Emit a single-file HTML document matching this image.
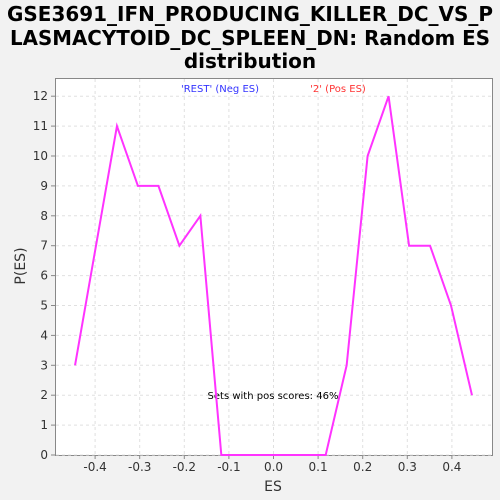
<!DOCTYPE html>
<html><head><meta charset="utf-8"><style>
body{margin:0;background:#f2f2f2;width:500px;height:500px;overflow:hidden;font-family:"DejaVu Sans","Liberation Sans",sans-serif}
svg text{font-family:"DejaVu Sans","Liberation Sans",sans-serif}
</style></head><body>
<svg id="chart" width="500" height="500" style="position:absolute;left:0;top:0">
<text x="250" y="21" text-anchor="middle" font-size="20" font-weight="bold" fill="#000" textLength="486" lengthAdjust="spacingAndGlyphs">GSE3691_IFN_PRODUCING_KILLER_DC_VS_P</text>
<text x="250" y="45" text-anchor="middle" font-size="20" font-weight="bold" fill="#000" textLength="480" lengthAdjust="spacingAndGlyphs">LASMACYTOID_DC_SPLEEN_DN: Random ES</text>
<text x="250" y="68" text-anchor="middle" font-size="20" font-weight="bold" fill="#000">distribution</text>
<rect x="55.5" y="78.5" width="437" height="377" fill="#fff" stroke="#888"/>
<g id="grid"></g><g id="axes"></g>
<text x="220" y="92" text-anchor="middle" font-size="10" fill="#3333ff">'REST' (Neg ES)</text>
<text x="338" y="92" text-anchor="middle" font-size="10" fill="#ff3333">'2' (Pos ES)</text>
<text x="273" y="399" text-anchor="middle" font-size="10" fill="#000">Sets with pos scores: 46%</text>
<text x="273" y="491" text-anchor="middle" font-size="14" fill="#333">ES</text>
<text x="25" y="266" text-anchor="middle" font-size="14" fill="#333" transform="rotate(-90 25 266)">P(ES)</text>
</svg>
<script>
const esValues=[-0.445,-0.398,-0.351,-0.304,-0.258,-0.211,-0.164,-0.117,-0.070,-0.023,0.023,0.070,0.117,0.164,0.211,0.258,0.304,0.351,0.398,0.445];
const pValues=[3,7,11,9,9,7,8,0,0,0,0,0,0,3,10,12,7,7,5,2];
const xTicks=[-0.4,-0.3,-0.2,-0.1,0.0,0.1,0.2,0.3,0.4];
const yTicks=[0,1,2,3,4,5,6,7,8,9,10,11,12];
const xs=v=>273.5+v*446;
const ys=v=>455-v*29.9;
const ns='http://www.w3.org/2000/svg';
const grid=document.getElementById('grid'),axes=document.getElementById('axes'),svg=document.getElementById('chart');
function mk(t,a,p){const e=document.createElementNS(ns,t);for(const k in a)e.setAttribute(k,a[k]);p.appendChild(e);return e;}
xTicks.forEach(t=>{const x=xs(t);
const g=mk('line',{x1:x,x2:x,y1:79,y2:455,stroke:'#e0e0e0','stroke-dasharray':'3,3'},grid);


const tk=mk('line',{x1:x,x2:x,y1:455,y2:459,stroke:'#888'},axes);


const l=mk('text',{x:x,y:471,'text-anchor':'middle','font-size':12,fill:'#333'},axes);l.textContent=t.toFixed(1);

});
yTicks.forEach(t=>{const y=ys(t);
const g=mk('line',{x1:56,x2:492,y1:y,y2:y,stroke:'#e0e0e0','stroke-dasharray':'3,3'},grid);


const tk=mk('line',{x1:51,x2:55,y1:y,y2:y,stroke:'#888'},axes);


const l=mk('text',{x:48,y:y+4,'text-anchor':'end','font-size':12,fill:'#333'},axes);l.textContent=t;

});
const pts=esValues.map((v,i)=>xs(v)+','+ys(pValues[i])).join(' ');
const line=mk('polyline',{points:pts,fill:'none',stroke:'#ff33ff','stroke-width':2},svg);


</script>
</body></html>
